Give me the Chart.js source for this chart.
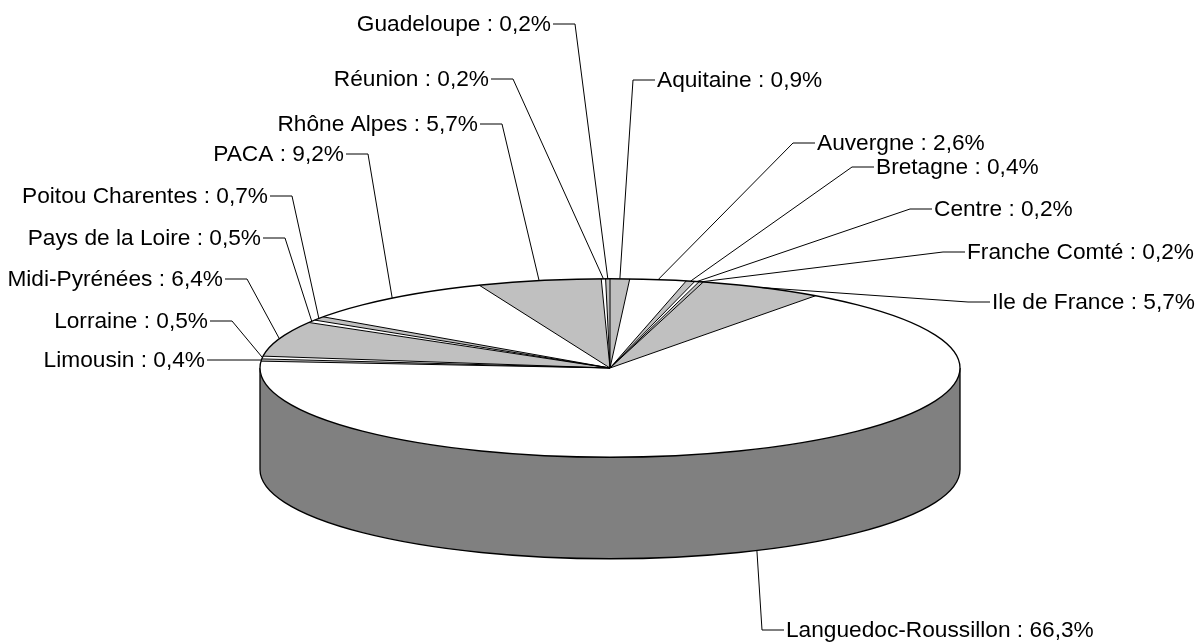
<!DOCTYPE html>
<html>
<head>
<meta charset="utf-8">
<script src="https://cdn.jsdelivr.net/npm/chart.js@4.4.1/dist/chart.umd.min.js"></script>
<style>
  html, body { margin: 0; padding: 0; background: #fff; }
  #wrap { width: 1200px; height: 642px; }
</style>
</head>
<body>
<div id="wrap"><canvas id="pie"></canvas></div>
<script>
const regions = ["Aquitaine", "Auvergne", "Bretagne", "Centre", "Franche Comté", "Ile de France",
  "Languedoc-Roussillon", "Limousin", "Lorraine", "Midi-Pyrénées", "Pays de la Loire",
  "Poitou Charentes", "PACA", "Rhône Alpes", "Réunion", "Guadeloupe"];
const shares = [0.9, 2.6, 0.4, 0.2, 0.2, 5.7, 66.3, 0.4, 0.5, 6.4, 0.5, 0.7, 9.2, 5.7, 0.2, 0.2];

const GREY = "#c0c0c0", WHITE = "#ffffff";
const fills = [GREY, WHITE, GREY, WHITE, GREY, GREY, WHITE, GREY, WHITE, GREY, WHITE, GREY, WHITE, GREY, WHITE, GREY];

// point where each leader line bends, the label sits just beside it
const labelElbows = [
  [633, 80], [793, 143], [852, 167], [910, 209], [943, 252], [968, 302],
  [762, 630], [229, 360], [232, 321], [247, 279], [285, 238], [292, 196],
  [368, 154], [502, 124], [513, 79], [575, 24]
];

const tilt = 0.255;      // ry / rx
const thickness = 0.29;  // wall height / rx
const FONT = '22.7px "Liberation Sans", Arial, sans-serif';

const wallColor = c => (c === WHITE ? "#808080" : "#606060");

function geom(chart) {
  const arcs = chart.getDatasetMeta(0).data;
  const a0 = arcs[0];
  const rx = chart.chartArea.width / 2;
  return { arcs, cx: a0.x, cy: a0.y, R: a0.outerRadius, rx, ry: rx * tilt, depth: rx * thickness };
}
const pt = (g, a, dy) => [g.cx + g.rx * Math.cos(a), g.cy + g.ry * Math.sin(a) + (dy || 0)];

const tiltPlugin = {
  id: "tilt",
  beforeDatasetsDraw(chart) {
    const ctx = chart.ctx, g = geom(chart);
    ctx.save();
    // side wall, only the front half shows
    g.arcs.forEach((arc, i) => {
      const s = Math.max(arc.startAngle, 0), e = Math.min(arc.endAngle, Math.PI);
      if (e <= s) return;
      ctx.beginPath();
      ctx.ellipse(g.cx, g.cy, g.rx, g.ry, 0, s, e);
      ctx.ellipse(g.cx, g.cy + g.depth, g.rx, g.ry, 0, e, s, true);
      ctx.closePath();
      ctx.fillStyle = wallColor(fills[i]);
      ctx.fill();
      if (arc.startAngle > 0 && arc.startAngle < Math.PI) {
        const p = pt(g, arc.startAngle);
        ctx.beginPath();
        ctx.moveTo(p[0], p[1]);
        ctx.lineTo(p[0], p[1] + g.depth);
        ctx.strokeStyle = "#000";
        ctx.lineWidth = 1;
        ctx.stroke();
      }
    });
    const r0 = pt(g, 0), l0 = pt(g, Math.PI);
    ctx.beginPath();
    ctx.moveTo(r0[0], r0[1]);
    ctx.lineTo(r0[0], r0[1] + g.depth);
    ctx.ellipse(g.cx, g.cy + g.depth, g.rx, g.ry, 0, 0, Math.PI);
    ctx.lineTo(l0[0], l0[1]);
    ctx.strokeStyle = "#000";
    ctx.lineWidth = 1.3;
    ctx.stroke();
    ctx.restore();

    // squash the pie into the top face
    ctx.save();
    ctx.translate(g.cx, g.cy);
    ctx.scale(g.rx / g.R, g.ry / g.R);
    ctx.translate(-g.cx, -g.cy);
  },
  afterDatasetsDraw(chart) {
    const ctx = chart.ctx, g = geom(chart);
    ctx.restore();
    ctx.save();
    ctx.strokeStyle = "#000";
    ctx.lineWidth = 1;
    g.arcs.forEach(arc => {
      const p = pt(g, arc.startAngle);
      ctx.beginPath();
      ctx.moveTo(g.cx, g.cy);
      ctx.lineTo(p[0], p[1]);
      ctx.stroke();
    });
    ctx.beginPath();
    ctx.ellipse(g.cx, g.cy, g.rx, g.ry, 0, 0, Math.PI * 2);
    ctx.lineWidth = 1.3;
    ctx.stroke();
    ctx.restore();
  },
  afterDraw(chart) {
    const ctx = chart.ctx, g = geom(chart);
    ctx.save();
    ctx.font = FONT;
    ctx.fillStyle = "#000";
    ctx.strokeStyle = "#000";
    ctx.lineWidth = 1;
    ctx.textBaseline = "middle";
    g.arcs.forEach((arc, i) => {
      const mid = (arc.startAngle + arc.endAngle) / 2;
      const front = Math.sin(mid) > 0;
      const end = pt(g, mid, front ? g.depth : 0);
      const [ex, ey] = labelElbows[i];
      const left = Math.cos(mid) < 0;
      const dir = left ? -1 : 1;
      ctx.beginPath();
      ctx.moveTo(ex + dir * 22, ey);
      ctx.lineTo(ex, ey);
      ctx.lineTo(end[0], end[1]);
      ctx.stroke();
      const txt = regions[i] + " : " + shares[i].toFixed(1).replace(".", ",") + "%";
      ctx.textAlign = left ? "right" : "left";
      ctx.fillText(txt, ex + dir * 24, ey + 1);
    });
    ctx.restore();
  }
};

new Chart(document.getElementById("pie"), {
  type: "pie",
  data: {
    labels: regions,
    datasets: [{
      data: shares,
      backgroundColor: fills,
      borderWidth: 0,
      hoverOffset: 0,
      clip: false
    }]
  },
  options: {
    responsive: true,
    maintainAspectRatio: false,
    animation: false,
    events: [],
    layout: { padding: { left: 260, right: 240, top: 100, bottom: 6 } },
    plugins: { legend: { display: false }, tooltip: { enabled: false } }
  },
  plugins: [tiltPlugin]
});
</script>
</body>
</html>
